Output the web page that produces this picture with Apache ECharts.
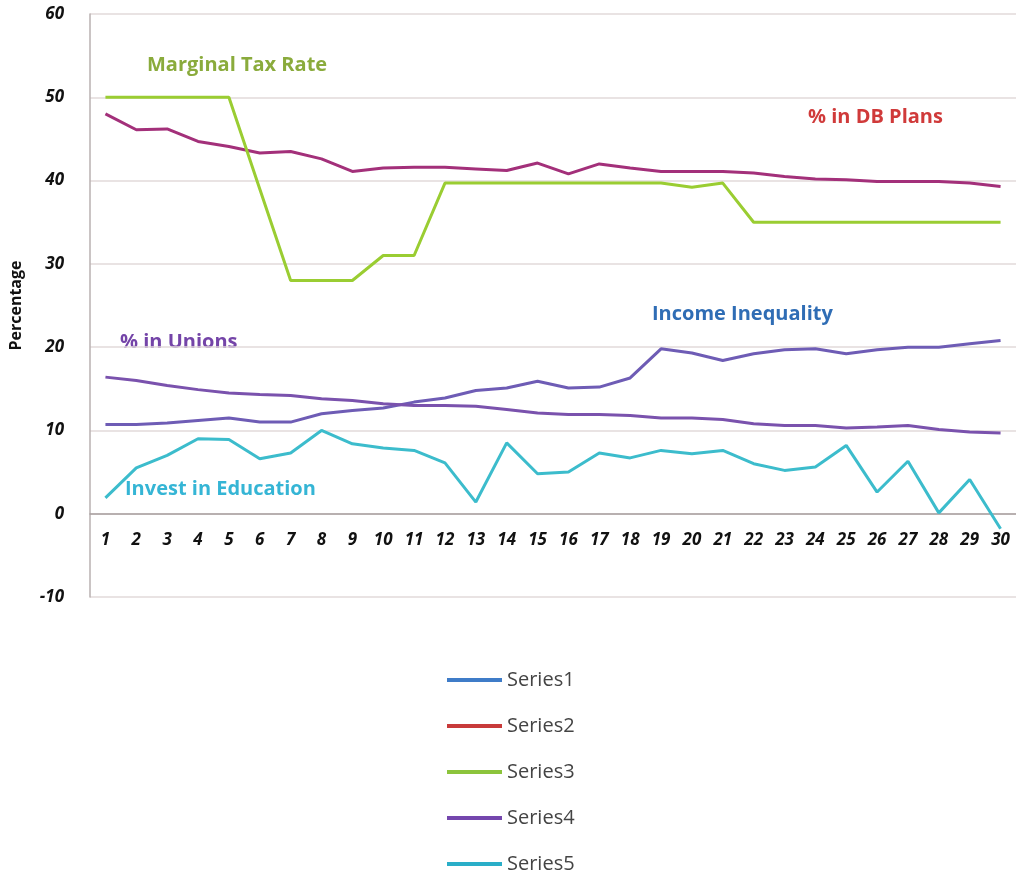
<!DOCTYPE html>
<html>
<head>
<meta charset="utf-8">
<script src="https://cdn.jsdelivr.net/npm/echarts@6/dist/echarts.min.js"></script>
<style>html,body{margin:0;padding:0;background:#fff;}#c{width:1016px;height:877px;}</style>
</head>
<body>
<div id="c"></div>
<script>
var categories = ['1','2','3','4','5','6','7','8','9','10','11','12','13','14','15','16','17','18','19','20','21','22','23','24','25','26','27','28','29','30'];
var incomeInequality = [10.7,10.7,10.9,11.2,11.5,11.0,11.0,12.0,12.4,12.7,13.4,13.9,14.8,15.1,15.9,15.1,15.2,16.3,19.8,19.3,18.4,19.2,19.7,19.8,19.2,19.7,20.0,20.0,20.4,20.8];
var dbPlans = [48.0,46.1,46.2,44.7,44.1,43.3,43.5,42.6,41.1,41.5,41.6,41.6,41.4,41.2,42.1,40.8,42.0,41.5,41.1,41.1,41.1,40.9,40.5,40.2,40.1,39.9,39.9,39.9,39.7,39.3];
var marginalTax = [50,50,50,50,50,39,28,28,28,31,31,39.7,39.7,39.7,39.7,39.7,39.7,39.7,39.7,39.2,39.7,35,35,35,35,35,35,35,35,35];
var unions = [16.4,16.0,15.4,14.9,14.5,14.3,14.2,13.8,13.6,13.2,13.0,13.0,12.9,12.5,12.1,11.9,11.9,11.8,11.5,11.5,11.3,10.8,10.6,10.6,10.3,10.4,10.6,10.1,9.8,9.7];
var education = [1.9,5.5,7.0,9.0,8.9,6.6,7.3,10.0,8.4,7.9,7.6,6.1,1.4,8.5,4.8,5.0,7.3,6.7,7.6,7.2,7.6,6.0,5.2,5.6,8.2,2.6,6.3,0.1,4.1,-1.8];
var seriesNames = ['Series1','Series2','Series3','Series4','Series5'];
var yTicks = [-10,0,10,20,30,40,50,60];

var lineColors = ['#6e5cb5','#a3307a','#9acd32','#7a52ad','#3cbccc'];
var legendColors = ['#3f7cc8','#c83a3a','#8cc43c','#7446ad','#2aaec8'];
var seriesData = [incomeInequality, dbPlans, marginalTax, unions, education];

var chart = echarts.init(document.getElementById('c'));
var font = '"Open Sans", "Noto Sans", sans-serif';
chart.setOption({
  backgroundColor: '#fff',
  animation: false,
  grid: {left: 88, top: 14, width: 933, height: 583, containLabel: false},
  xAxis: {
    type: 'category',
    data: categories,
    boundaryGap: true,
    offset: -83,
    axisLine: {onZero: false, lineStyle: {color: '#a8a0a0', width: 1.5}},
    axisTick: {show: false},
    axisLabel: {margin: 18, color: '#111', fontSize: 17, fontWeight: 'bold', fontStyle: 'italic', fontFamily: font, interval: 0}
  },
  yAxis: {
    type: 'value',
    min: -10, max: 60, interval: 10,
    name: 'Percentage',
    nameLocation: 'middle',
    nameGap: 66,
    nameTextStyle: {color: '#111', fontSize: 16, fontWeight: 'bold', fontFamily: font},
    axisLine: {show: true, lineStyle: {color: '#b8b0b0', width: 1.5}},
    axisTick: {show: false},
    axisLabel: {margin: 26, color: '#111', fontSize: 17, fontWeight: 'bold', fontStyle: 'italic', fontFamily: font,
      formatter: function (v) { return yTicks.indexOf(v) >= 0 ? String(v) : ''; }},
    splitLine: {show: true, lineStyle: {color: '#e2dada', width: 1.5}}
  },
  legend: {
    orient: 'vertical',
    left: 447, top: 670,
    padding: 0,
    itemWidth: 55, itemHeight: 4,
    itemGap: 26,
    icon: 'rect',
    textStyle: {color: '#444', fontSize: 20, fontFamily: font},
    data: seriesNames.map(function (n, i) { return {name: n, itemStyle: {color: legendColors[i]}}; })
  },
  series: seriesNames.map(function (n, i) {
    return {
      name: n, type: 'line', data: seriesData[i],
      symbol: 'none',
      lineStyle: {color: lineColors[i], width: 3},
      itemStyle: {color: lineColors[i]}
    };
  }),
  graphic: [
    {type: 'text', left: 147, top: 55, style: {text: 'Marginal Tax Rate', fill: '#8aab3c', font: 'bold 20px ' + font}},
    {type: 'text', left: 808, top: 107, style: {text: '% in DB Plans', fill: '#d03a3a', font: 'bold 20px ' + font}},
    {type: 'text', left: 652, top: 304, style: {text: 'Income Inequality', fill: '#2f6db5', font: 'bold 20px ' + font}},
    {type: 'text', left: 120, top: 332, style: {text: '% in Unions', fill: '#7444a8', font: 'bold 20px ' + font}},
    {type: 'text', left: 125, top: 479, style: {text: 'Invest in Education', fill: '#35b5d5', font: 'bold 20px ' + font}}
  ]
});
</script>
</body>
</html>
